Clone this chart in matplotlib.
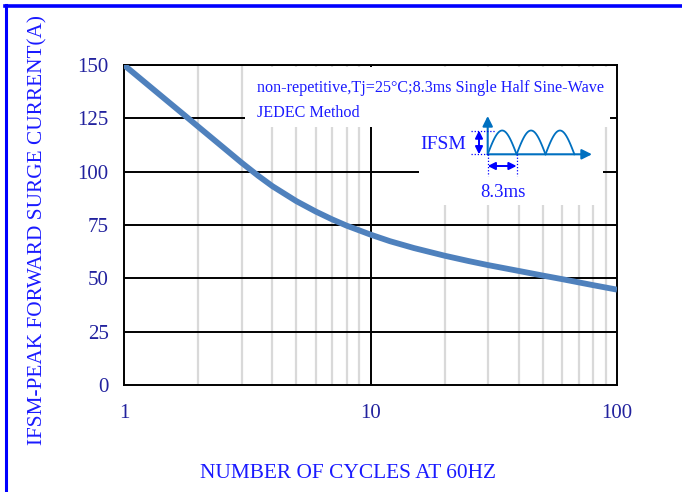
import numpy as np
import matplotlib
matplotlib.use("Agg")
import matplotlib.pyplot as plt
from matplotlib.patches import Rectangle, FancyArrowPatch
from matplotlib.lines import Line2D

# data
cycles = [1, 1.25, 1.5, 1.75, 2, 2.5, 3, 3.5, 4, 5, 6, 7, 8, 10, 12, 15,
          20, 25, 30, 40, 50, 60, 70, 80, 100]
ifsm = [150, 140.7, 133.1, 126.7, 121.1, 111.8, 104.2, 98.1, 93.2, 86.2, 81.3, 77.6, 74.7,
        70.5, 67.4, 64.2, 60.6, 58.1, 56.2, 53.45, 51.3, 49.6, 48.1, 46.8, 44.7]
y_ticks = [0, 25, 50, 75, 100, 125, 150]
x_ticks = [1, 10, 100]
x_ticklabels = ["1", "10", "100"]

W, H = 682, 492
plt.rcParams['font.family'] = ['Liberation Serif', 'DejaVu Serif']

fig = plt.figure(figsize=(W / 100, H / 100), dpi=100)
fig.patch.set_facecolor('white')

def fx(x):
    return x / W

def fy(y):
    return 1 - y / H

# main axes, pixel box 124..617 x 65..385
ax = fig.add_axes([fx(124), fy(385), fx(617) - fx(124), fy(65) - fy(385)])
ax.set_xscale('log')
ax.set_xlim(1, 100)
ax.set_ylim(0, 150)

minor = [m * d for d in (1, 10) for m in range(2, 10)]
for xm in minor:
    ax.axvline(xm, color='#d9d9d9', lw=1.6, zorder=1)
ax.axvline(10, color='black', lw=1.4, zorder=2)
for yv in y_ticks[1:]:
    ax.axhline(yv, color='black', lw=1.4, zorder=2)

ax.plot(cycles, ifsm, color='#4f81bd', lw=4.2, solid_capstyle='butt',
        solid_joinstyle='round', zorder=5)

for s in ax.spines.values():
    s.set_color('black')
    s.set_linewidth(1.4)

ax.set_xticks(x_ticks)
ax.set_xticklabels(x_ticklabels)
ax.xaxis.set_minor_locator(matplotlib.ticker.NullLocator())
ax.set_yticks(y_ticks)
ax.tick_params(length=0, labelsize=15, labelcolor='#22229e')
ax.tick_params(axis='x', pad=14)
ax.tick_params(axis='y', pad=11)

# white boxes behind the note and the sketch
fig.add_artist(Rectangle((fx(245), fy(127)), fx(610) - fx(245), fy(67) - fy(127),
                         transform=fig.transFigure, facecolor='white', edgecolor='none', zorder=3))
fig.add_artist(Rectangle((fx(419), fy(205)), fx(603) - fx(419), fy(127) - fy(205),
                         transform=fig.transFigure, facecolor='white', edgecolor='none', zorder=3))

fig.text(fx(257), fy(88), "non-repetitive,Tj=25\u00b0C;8.3ms Single Half Sine-Wave",
         color='#1a1aff', fontsize=11.6, va='center', ha='left', zorder=6)
fig.text(fx(257), fy(113), "JEDEC Method",
         color='#1a1aff', fontsize=11.6, va='center', ha='left', zorder=6)

# sketch of the surge waveform, in picture pixels
sk = fig.add_axes([fx(419), fy(205), fx(603) - fx(419), fy(105) - fy(205)], zorder=7)
sk.set_xlim(419, 603)
sk.set_ylim(205, 105)
sk.axis('off')
sk.patch.set_alpha(0)

x0, base, peak, per = 487.7, 154.3, 130.5, 28.9
for k in range(3):
    t = np.linspace(0, np.pi, 60)
    sk.plot(x0 + k * per + t / np.pi * per, base - (base - peak) * np.sin(t),
            color='#0070c0', lw=1.3)
sk.add_patch(FancyArrowPatch((x0, base), (x0, 116), arrowstyle='-|>', mutation_scale=15,
                             color='#0070c0', lw=1.5, shrinkA=0, shrinkB=0))
sk.add_patch(FancyArrowPatch((x0, base), (592, base), arrowstyle='-|>', mutation_scale=15,
                             color='#0070c0', lw=1.5, shrinkA=0, shrinkB=0))
dot = dict(color='#0000ff', lw=0.9, ls=(0, (1, 1.5)))
sk.plot([470.5, 496], [peak, peak], **dot)
sk.plot([470.5, x0], [base, base], **dot)
sk.plot([x0, x0], [base, 176], **dot)
sk.plot([x0 + per, x0 + per], [base, 176], **dot)
sk.add_patch(FancyArrowPatch((479, peak), (479, base), arrowstyle='<|-|>', mutation_scale=11,
                             color='#0000ff', lw=1.4, shrinkA=0, shrinkB=0))
sk.add_patch(FancyArrowPatch((x0, 166), (x0 + per, 166), arrowstyle='<|-|>', mutation_scale=11,
                             color='#0000ff', lw=1.4, shrinkA=0, shrinkB=0))
sk.text(443.5, 144, "IFSM", color='#1a1aff', fontsize=14, ha='center', va='center')
sk.text(503, 192, "8.3ms", color='#1a1aff', fontsize=13.5, ha='center', va='center')

# axis titles
fig.text(fx(348), fy(474), "NUMBER OF CYCLES AT 60HZ", color='#1a1aff', fontsize=15.4,
         ha='center', va='center')
fig.text(fx(38), fy(230), "IFSM-PEAK FORWARD SURGE CURRENT(A)", color='#1a1aff', fontsize=15.3,
         ha='center', va='center', rotation=90)

# blue frame on top and left
fig.add_artist(Line2D([fx(5), 1], [fy(6), fy(6)], color='#0000ff', lw=2.6,
                      transform=fig.transFigure))
fig.add_artist(Line2D([fx(6), fx(6)], [0, fy(5)], color='#0000ff', lw=2.2,
                      transform=fig.transFigure))

fig.savefig("out.png", dpi=100, facecolor='white')
